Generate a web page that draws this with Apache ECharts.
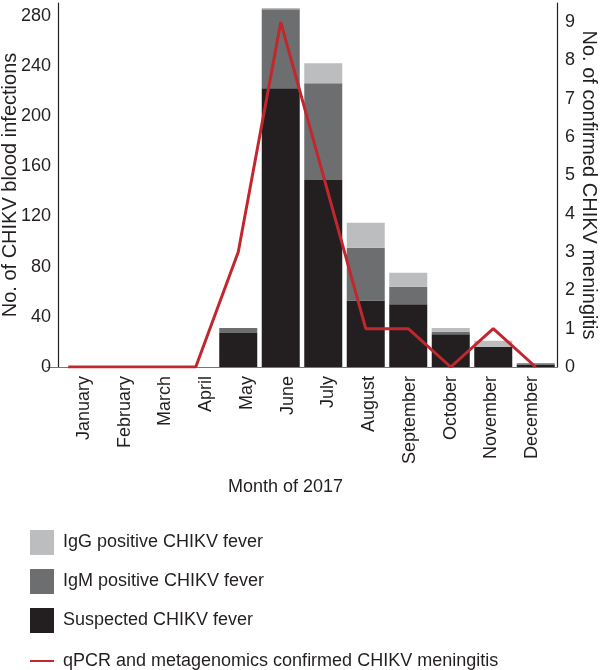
<!DOCTYPE html>
<html>
<head>
<meta charset="utf-8">
<script src="https://cdn.jsdelivr.net/npm/echarts@6/dist/echarts.min.js"></script>
<style>
html,body{margin:0;padding:0;background:#fff;}
#chart{width:600px;height:670px;}
</style>
</head>
<body>
<div id="chart"></div>
<script>
var months = ['January','February','March','April','May','June','July','August','September','October','November','December'];
var suspected = [0,0,0,0,27,222,149,53,50,26,16,2];
var igmPositive = [0,0,0,0,4,63,77,42,14,2,0,1];
var iggPositive = [0,0,0,0,0,1,16,20,11,3,5,0];
var meningitis = [0,0,0,0,3,9,5,1,1,0,1,0];
var leftTicks = [0,40,80,120,160,200,240,280];
var rightTicks = [0,1,2,3,4,5,6,7,8,9];

var names = {
  igg: 'IgG positive CHIKV fever',
  igm: 'IgM positive CHIKV fever',
  sus: 'Suspected CHIKV fever',
  men: 'qPCR and metagenomics confirmed CHIKV meningitis'
};
var font = 'Liberation Sans, Arial, sans-serif';
var txt = '#231f20';

var chart = echarts.init(document.getElementById('chart'), null, {renderer:'canvas'});
chart.setOption({
  animation: false,
  textStyle: {fontFamily: font, color: txt},
  title: {
    text: 'Month of 2017', left: 223, top: 473,
    textStyle: {fontFamily: font, fontSize: 18, fontWeight: 'normal', color: txt}
  },
  legend: [{
    orient: 'vertical', left: 25, top: 525, height: 130,
    itemWidth: 24, itemHeight: 25, itemGap: 14, icon: 'rect',
    textStyle: {fontFamily: font, fontSize: 18, color: txt, padding: [0,0,0,4]},
    data: [names.igg, names.igm, names.sus]
  },{
    orient: 'vertical', left: 25, top: 647, height: 20,
    itemWidth: 24, itemHeight: 2, itemGap: 0, icon: 'rect',
    textStyle: {fontFamily: font, fontSize: 18, color: txt, padding: [0,0,0,4]},
    data: [names.men]
  }],
  grid: [
    {left: 47, right: 43, top: 3, bottom: 303, outerBoundsMode: 'none', containLabel: false},
    {left: 63.6, right: 47.6, top: 3, bottom: 303, outerBoundsMode: 'none', containLabel: false}
  ],
  xAxis: [{
    type: 'category', data: months, gridIndex: 0,
    axisLine: {show: true, lineStyle: {color: '#777', width: 1}},
    axisTick: {show: false},
    axisLabel: {show: false}
  },{
    type: 'category', data: months, gridIndex: 1,
    axisLine: {show: false}, axisTick: {show: false}, splitLine: {show: false},
    axisLabel: {rotate: 90, margin: 9, fontSize: 18, color: txt, fontFamily: font, interval: 0}
  }],
  yAxis: [{
    type: 'value', min: 0, max: 290, interval: 40, offset: -11, gridIndex: 0,
    axisLine: {show: true, lineStyle: {color: txt, width: 1.2}},
    axisTick: {show: false}, splitLine: {show: false},
    axisLabel: {fontSize: 18, color: txt, fontFamily: font, margin: 7, showMaxLabel: false,
      formatter: function(v){ return leftTicks.indexOf(v) >= 0 ? String(v) : ''; }},
    name: 'No. of CHIKV blood infections', nameLocation: 'middle', nameGap: 38, nameMoveOverlap: false,
    nameTextStyle: {fontSize: 20, color: txt, fontFamily: font}
  },{
    type: 'value', min: 0, max: 9.5, interval: 1, position: 'right', gridIndex: 0,
    axisLine: {show: true, lineStyle: {color: txt, width: 1.2}},
    axisTick: {show: false}, splitLine: {show: false},
    axisLabel: {fontSize: 18, color: txt, fontFamily: font, margin: 8, showMaxLabel: false,
      formatter: function(v){ return rightTicks.indexOf(v) >= 0 ? String(v) : ''; }},
    name: 'No. of confirmed CHIKV meningitis', nameLocation: 'middle', nameGap: 22, nameRotate: -90, nameMoveOverlap: false,
    nameTextStyle: {fontSize: 20, color: txt, fontFamily: font}
  },{
    type: 'value', gridIndex: 1, show: false
  }],
  series: [
    {name: names.sus, type: 'bar', stack: 'a', data: suspected, barWidth: 38, itemStyle: {color: '#231f20'}},
    {name: names.igm, type: 'bar', stack: 'a', data: igmPositive, itemStyle: {color: '#6d6e70'}},
    {name: names.igg, type: 'bar', stack: 'a', data: iggPositive, itemStyle: {color: '#bcbdbf'}},
    {name: names.men, type: 'line', yAxisIndex: 1, data: meningitis, symbol: 'none',
      lineStyle: {color: '#c1272d', width: 3}, itemStyle: {color: '#c1272d'}, z: 5}
  ]
});
</script>
</body>
</html>
